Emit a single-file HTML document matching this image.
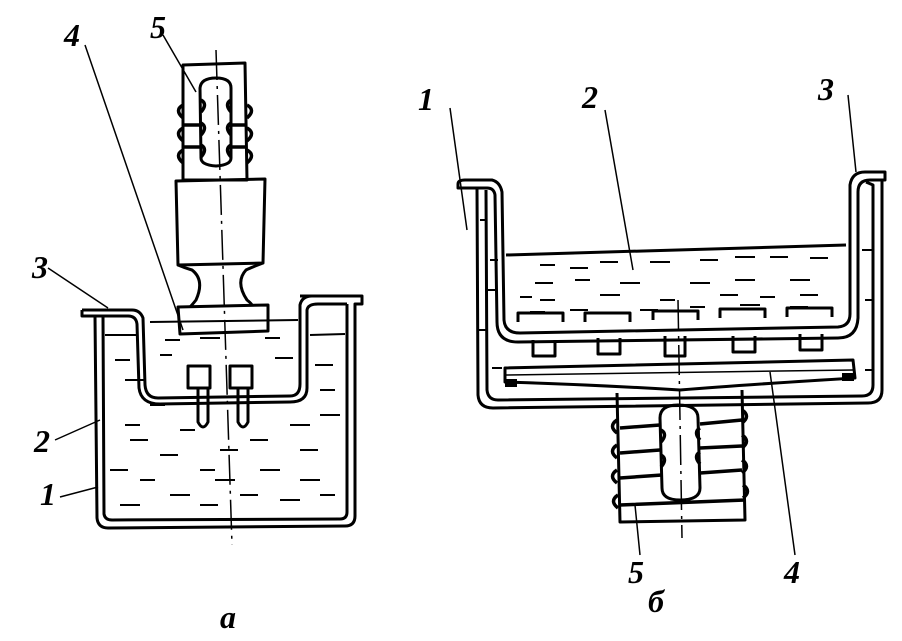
<!DOCTYPE html>
<html><head><meta charset="utf-8"><style>
html,body{margin:0;padding:0;background:#fff;}
svg{display:block;}
text{font-family:"Liberation Serif",serif;font-style:italic;font-weight:bold;font-size:32px;fill:#000;}
</style></head><body>
<svg width="902" height="641" viewBox="0 0 902 641" xmlns="http://www.w3.org/2000/svg" fill="none" stroke="#000" stroke-width="3" stroke-linejoin="round">
<!-- LEFT FIGURE -->
<path d="M82 310 L82 316 L95 316 L97 518 Q98 528 108 528 L345 526 Q355 526 355 516 L355 304 L362 304 L362 296 L300 296" />
<path d="M103 316 L104 514 Q105 520 112 520 L340 519 Q347 519 347 512 L347 304"/>
<path d="M82 310 L132 310 Q140 310 143 318 L145 385 Q146 398 158 398 L290 396 Q300 396 300 384 L300 305 Q302 296 312 296 L362 296"/>
<path d="M82 316 L128 316 Q136 316 137 324 L139 388 Q141 404 160 404 L290 402 Q307 402 307 388 L307 310 Q308 304 318 304 L347 304"/>
<path d="M150 322 L298 320 M105 335 L138 335 M310 335 L345 334" stroke-width="2"/>
<g stroke-width="2">
<path d="M115 360h15 M125 380h20 M150 405h15 M125 425h15 M130 440h18 M160 455h18 M110 470h18 M140 480h15 M170 495h20 M120 505h20 M200 505h18 M180 430h15 M220 450h18 M250 440h18 M290 425h20 M320 415h20 M300 450h18 M260 470h20 M215 480h20 M300 480h20 M240 495h18 M280 500h20 M320 495h15 M315 365h18 M320 390h15 M200 470h15"/>
<path d="M165 340h15 M200 338h20 M265 338h15 M160 355h12 M275 358h18"/>
</g>
<path d="M183 65 L245 63 L247 180 L183 180 Z"/>
<path d="M200 88 Q201 78 216 78 Q231 78 231 88 L231 158 Q231 165 216 166 Q201 165 201 158 Z"/>
<g stroke-width="3.5">
<path d="M183 105 q-9 5 0 13 M183 128 q-9 5 0 13 M183 150 q-9 5 0 13 M247 105 q9 5 0 13 M247 128 q9 5 0 13 M247 150 q9 5 0 13"/>
<path d="M201 100 q7 4 0 12 M201 123 q7 4 0 12 M201 145 q7 4 0 12 M231 100 q-7 4 0 12 M231 123 q-7 4 0 12 M231 145 q-7 4 0 12"/>
<path d="M183 125 L201 125 M183 147 L201 147 M231 125 L247 125 M231 147 L247 147"/>
</g>
<path d="M176 181 L265 179 L263 263 L178 265 Z"/>
<path d="M178 265 Q185 268 192 270 Q205 280 196 300 Q192 305 190 307 M263 263 Q250 268 246 270 Q235 282 247 300 Q252 304 252 305"/>
<path d="M178 307 L268 305 L268 331 L180 334 Z"/>
<path d="M188 366 h22 v22 h-22 Z M230 366 h22 v22 h-22 Z"/>
<path d="M198 388 L198 422 Q203 432 208 422 L208 388 M238 388 L238 422 Q243 432 248 422 L248 388"/>
<path d="M216 50 L232 545" stroke-width="1.5" stroke-dasharray="30 6 3 6"/>
<g stroke-width="1.5">
<path d="M85 45 L183 330 M163 35 L196 92 M48 268 L108 308 M55 440 L100 420 M60 497 L98 487"/>
</g>
<!-- RIGHT FIGURE -->
<path d="M458 184 Q458 180 465 180 L492 180 Q500 182 502 192 L504 320 Q505 333 520 333 L838 327 Q850 326 850 314 L850 185 Q852 172 865 172 L885 172 L885 180 L870 180 Q858 180 858 192 L858 318 Q857 338 838 338 L518 342 Q497 342 497 322 L495 195 Q494 188 487 188 L477 188"/>
<path d="M458 184 L458 188 L477 188 L478 395 Q479 408 493 408 L868 403 Q882 403 882 390 L882 180"/>
<path d="M486 190 L487 390 Q488 400 498 400 L862 396 Q873 396 873 385 L873 185 L866 182"/>
<path d="M506 255 L846 245" stroke-width="3"/>
<g stroke-width="2">
<path d="M540 265h15 M570 268h18 M600 262h18 M650 262h20 M700 260h18 M735 257h20 M770 257h18 M810 258h18 M535 283h18 M575 280h15 M620 283h20 M690 283h20 M735 280h20 M790 280h20 M520 297h12 M540 300h15 M600 295h20 M660 300h15 M720 295h18 M760 297h15 M800 295h18 M530 312h15 M570 310h18 M640 310h18 M690 307h15 M740 305h20 M790 307h18"/>
<path d="M490 260h8 M488 290h8 M480 220h6 M478 330h8 M862 250h10 M865 300h8 M492 368h10 M865 370h8"/>
</g>
<path d="M518 322 v-9 h45 v9 M585 322 v-9 h45 v9 M653 320 v-9 h45 v9 M720 318 v-9 h45 v9 M787 317 v-9 h45 v9"/>
<path d="M533 340 v16 h22 v-16 M598 338 v16 h22 v-16 M665 336 v20 h20 v-20 M733 336 v16 h22 v-16 M800 334 v16 h22 v-16"/>
<path d="M505 368 L853 360 L855 378 Q740 385 680 390 Q600 385 505 382 Z"/>
<path d="M505 375 L853 370" stroke-width="1.5"/>
<rect x="505" y="379" width="12" height="8" fill="#000" stroke="none"/>
<rect x="842" y="373" width="12" height="8" fill="#000" stroke="none"/>
<path d="M617 393 L620 522 L745 520 L742 390"/>
<path d="M660 418 Q660 405 678 405 Q698 405 698 418 L700 488 Q700 500 680 500 Q662 500 662 488 Z"/>
<g stroke-width="3.5">
<path d="M620 428 L660 425 M620 453 L660 450 M620 478 L662 475 M620 505 L745 500 M700 424 L742 420 M700 448 L742 446 M700 473 L742 470"/>
<path d="M617 420 q-9 6 0 13 M617 445 q-9 6 0 13 M617 470 q-9 6 0 13 M618 495 q-9 6 0 13 M742 410 q9 6 0 13 M742 435 q9 6 0 13 M742 460 q9 6 0 13 M743 485 q9 6 0 13"/>
<path d="M661 430 q7 4 0 12 M661 455 q7 4 0 12 M700 428 q-7 4 0 12 M700 452 q-7 4 0 12"/>
</g>
<path d="M678 300 L682 538" stroke-width="1.5" stroke-dasharray="30 6 3 6"/>
<g stroke-width="1.5">
<path d="M450 108 L467 230 M605 110 L633 270 M848 95 L856 172 M640 555 L635 505 M795 555 L770 372"/>
</g>
<g stroke="none">
<text x="64" y="46">4</text>
<text x="150" y="38">5</text>
<text x="32" y="278">3</text>
<text x="34" y="452">2</text>
<text x="40" y="505">1</text>
<text x="220" y="628">а</text>
<text x="418" y="110">1</text>
<text x="582" y="108">2</text>
<text x="818" y="100">3</text>
<text x="628" y="583">5</text>
<text x="784" y="583">4</text>
<text x="648" y="612">б</text>
</g>
</svg>
</body></html>
